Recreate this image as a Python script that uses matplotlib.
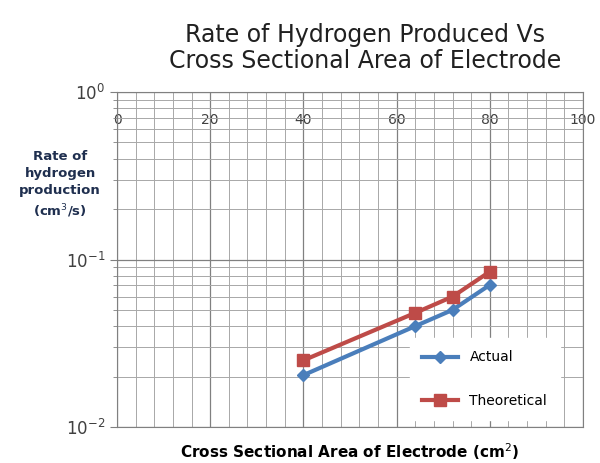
import matplotlib
matplotlib.use("Agg")
import matplotlib.pyplot as plt
from matplotlib.ticker import LogLocator, MultipleLocator, NullFormatter

area = [40, 64, 72, 80]
actual = [0.0204, 0.040, 0.050, 0.0705]
theoretical = [0.025, 0.048, 0.060, 0.0846]

x_ticks = [0, 20, 40, 60, 80, 100]

fig = plt.figure(figsize=(6, 4.63), dpi=100)
ax = fig.add_axes([117/600, 1 - 427/463, 466/600, 335/463])

ax.plot(area, actual, color="#4A7EBB", lw=3, marker="D", ms=6, label="Actual")
ax.plot(area, theoretical, color="#BE4B48", lw=3, marker="s", ms=8, label="Theoretical")

ax.set_yscale("log")
ax.set_xlim(0, 100)
ax.set_ylim(0.01, 1)
ax.set_xticks(x_ticks)
ax.xaxis.set_minor_locator(MultipleLocator(4))
ax.yaxis.set_minor_locator(LogLocator(base=10, subs=range(2, 10)))
ax.yaxis.set_minor_formatter(NullFormatter())

ax.grid(True, which="major", color="#808080", lw=0.9)
ax.grid(True, which="minor", color="#a8a8a8", lw=0.7)
ax.set_axisbelow(True)

# x labels sit inside the plot near the top, as in the original
ax.tick_params(axis="x", which="both", bottom=False, top=False,
               labelbottom=False, labeltop=True, pad=-29, labelsize=10,
               labelcolor="#404040")
ax.tick_params(axis="y", which="major", length=5, color="#808080",
               labelsize=12, labelcolor="#404040")
ax.tick_params(axis="y", which="minor", length=3, color="#808080")
for s in ax.spines.values():
    s.set_color("#808080")

ax.set_xlabel("Cross Sectional Area of Electrode (cm$^{2}$)",
              fontsize=11, fontweight="bold", labelpad=10)
fig.text(60/600, 1 - 185/463, "Rate of\nhydrogen\nproduction\n(cm$^{3}$/s)",
         ha="center", va="center", fontsize=9.5, fontweight="bold",
         color="#1F2F4F", linespacing=1.4)

fig.suptitle("Rate of Hydrogen Produced Vs\nCross Sectional Area of Electrode",
             x=365/600, y=1 - 48/463, va="center", fontsize=17,
             color="#202020", linespacing=1.15)

leg = ax.legend(loc="lower right", bbox_to_anchor=(0.965, 0.0),
                frameon=True, fancybox=False, edgecolor="white",
                framealpha=1, fontsize=10, labelspacing=2.1,
                handlelength=2.6, borderpad=0.9)

fig.savefig("out.png", dpi=100, facecolor="white")
